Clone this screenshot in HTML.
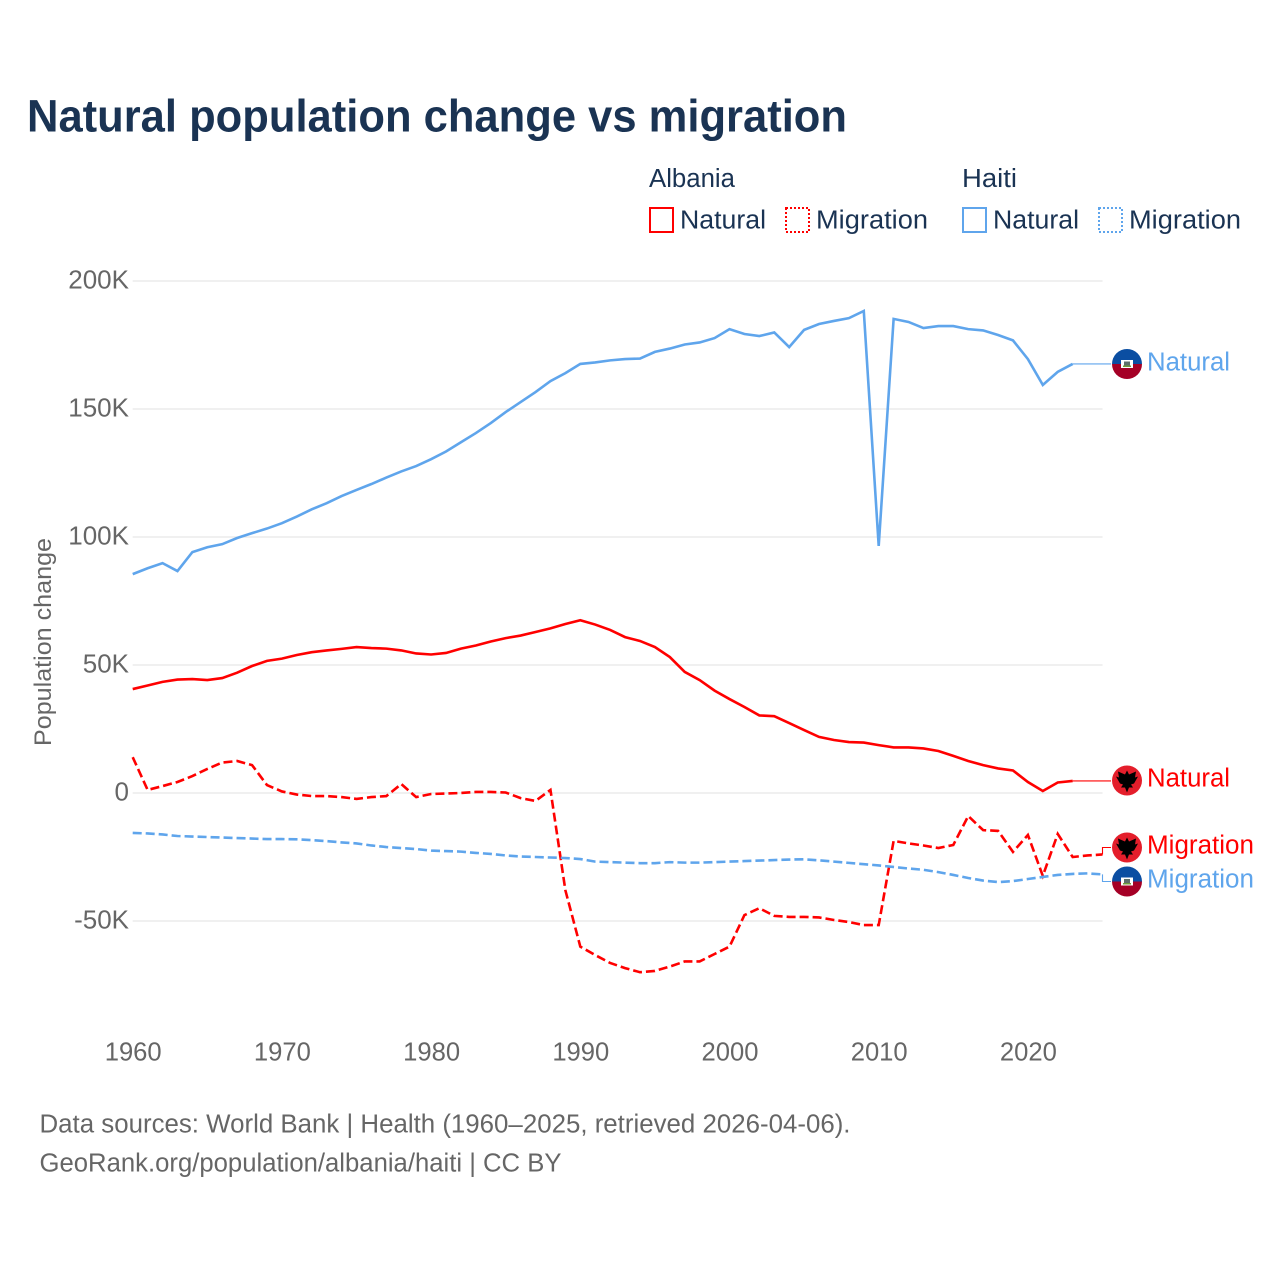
<!DOCTYPE html>
<html lang="en">
<head>
<meta charset="utf-8">
<title>Natural population change vs migration</title>
<style>
html,body{margin:0;padding:0;background:#fff;width:1280px;height:1280px;overflow:hidden}
svg{display:block}
text{font-family:"Liberation Sans",sans-serif}
</style>
</head>
<body>
<svg id="chart" xmlns="http://www.w3.org/2000/svg" width="1280" height="1280" viewBox="0 0 1280 1280">
  <rect width="1280" height="1280" fill="#fff"/>
  <text x="27" y="131.5" font-size="45" font-weight="700" fill="#1a3353" textLength="820" lengthAdjust="spacingAndGlyphs">Natural population change vs migration</text>

  <g>
    <text x="649" y="187" font-size="25.5" fill="#1a3353" textLength="86" lengthAdjust="spacingAndGlyphs">Albania</text>
    <text x="962" y="187" font-size="25.5" fill="#1a3353" textLength="55" lengthAdjust="spacingAndGlyphs">Haiti</text>
    <g>
      <rect x="650" y="208" width="23" height="24" fill="none" stroke="#ff0000" stroke-width="2"/>
      <text x="680" y="228.5" font-size="25.5" fill="#1a3353" textLength="86" lengthAdjust="spacingAndGlyphs">Natural</text>
    </g>
    <g>
      <rect x="786" y="208" width="23" height="24" fill="none" stroke="#ff0000" stroke-width="2" stroke-dasharray="2 2"/>
      <text x="816" y="228.5" font-size="25.5" fill="#1a3353" textLength="112" lengthAdjust="spacingAndGlyphs">Migration</text>
    </g>
    <g>
      <rect x="963" y="208" width="23" height="24" fill="none" stroke="#5fa5ec" stroke-width="2"/>
      <text x="993" y="228.5" font-size="25.5" fill="#1a3353" textLength="86" lengthAdjust="spacingAndGlyphs">Natural</text>
    </g>
    <g>
      <rect x="1099" y="208" width="23" height="24" fill="none" stroke="#5fa5ec" stroke-width="2" stroke-dasharray="2 2"/>
      <text x="1129" y="228.5" font-size="25.5" fill="#1a3353" textLength="112" lengthAdjust="spacingAndGlyphs">Migration</text>
    </g>
  </g>

  <g id="grid"></g>
  <g id="yticks"></g>
  <g id="xticks"></g>
  <text transform="translate(51,642) rotate(-90)" text-anchor="middle" font-size="24" fill="#666" textLength="208" lengthAdjust="spacingAndGlyphs">Population change</text>
  <g id="series"></g>

  <g>
    <g transform="translate(1127,364)">
      <path d="M-15 0A15 15 0 0 1 15 0Z" fill="#0b4ea2"/><path d="M-15 0A15 15 0 0 0 15 0Z" fill="#a50026"/>
      <rect x="-6" y="-4" width="12" height="8" fill="#fff"/><rect x="-3" y="-2.5" width="6" height="4" fill="#5d6f6a"/><rect x="-4" y="1.5" width="8" height="1.5" fill="#6f9a3a"/>
    </g>
    <text x="1147" y="370.5" font-size="25.5" fill="#5fa5ec" textLength="83" lengthAdjust="spacingAndGlyphs">Natural</text>
  </g>
  <g>
    <g transform="translate(1127,780.5)">
      <circle r="15" fill="#e41e2b"/>
      <path d="M0 -10L2 -6L9 -9L8 -3L11 -4L7 3L4 4L6 7L2 7L0 12L-2 7L-6 7L-4 4L-7 3L-11 -4L-8 -3L-9 -9L-2 -6Z" fill="#000"/>
    </g>
    <text x="1147" y="786.5" font-size="25.5" fill="#ff0000" textLength="83" lengthAdjust="spacingAndGlyphs">Natural</text>
  </g>
  <g>
    <g transform="translate(1127,847.5)">
      <circle r="15" fill="#e41e2b"/>
      <path d="M0 -10L2 -6L9 -9L8 -3L11 -4L7 3L4 4L6 7L2 7L0 12L-2 7L-6 7L-4 4L-7 3L-11 -4L-8 -3L-9 -9L-2 -6Z" fill="#000"/>
    </g>
    <text x="1147" y="853.5" font-size="25.5" fill="#ff0000" textLength="107" lengthAdjust="spacingAndGlyphs">Migration</text>
  </g>
  <g>
    <g transform="translate(1127,881.5)">
      <path d="M-15 0A15 15 0 0 1 15 0Z" fill="#0b4ea2"/><path d="M-15 0A15 15 0 0 0 15 0Z" fill="#a50026"/>
      <rect x="-6" y="-4" width="12" height="8" fill="#fff"/><rect x="-3" y="-2.5" width="6" height="4" fill="#5d6f6a"/><rect x="-4" y="1.5" width="8" height="1.5" fill="#6f9a3a"/>
    </g>
    <text x="1147" y="887.5" font-size="25.5" fill="#5fa5ec" textLength="107" lengthAdjust="spacingAndGlyphs">Migration</text>
  </g>

  <text x="39.5" y="1132.5" font-size="25.5" fill="#666" textLength="811" lengthAdjust="spacingAndGlyphs">Data sources: World Bank | Health (1960–2025, retrieved 2026-04-06).</text>
  <text x="39.5" y="1171.5" font-size="25.5" fill="#666" textLength="522" lengthAdjust="spacingAndGlyphs">GeoRank.org/population/albania/haiti | CC BY</text>
</svg>
<script>
const startYear = 1960;
const xTickYears = [1960, 1970, 1980, 1990, 2000, 2010, 2020];
const yTickValues = [200, 150, 100, 50, 0, -50];
const yTickLabels = ['200K', '150K', '100K', '50K', '0', '-50K'];

const haitiNatural = [85.5,87.8,89.8,86.7,94.1,96,97.2,99.6,101.5,103.3,105.4,108,110.8,113.2,116,118.4,120.7,123.2,125.6,127.7,130.4,133.4,137,140.6,144.5,148.8,152.7,156.6,160.9,164,167.6,168.2,169,169.5,169.7,172.3,173.6,175.2,176,177.7,181.2,179.3,178.5,179.9,174.2,180.9,183.2,184.4,185.5,188.3,96.5,185.2,184,181.6,182.4,182.4,181.2,180.7,178.9,176.8,169.5,159.4,164.5,167.6];
const albaniaNatural = [40.6,42,43.4,44.3,44.5,44.1,44.9,47,49.6,51.6,52.5,53.9,55,55.7,56.3,57,56.6,56.4,55.7,54.5,54.1,54.7,56.4,57.6,59.2,60.5,61.5,62.9,64.3,66,67.5,65.8,63.7,60.9,59.4,57,53.1,47.3,44.1,40,36.7,33.6,30.3,30,27.3,24.6,21.9,20.7,19.9,19.7,18.7,17.8,17.8,17.4,16.4,14.5,12.5,10.9,9.6,8.8,4.3,0.8,4.1,4.7];
const albaniaMigration = [14,1.2,2.7,4.3,6.6,9.4,11.9,12.5,10.9,3.1,0.6,-0.6,-1.2,-1.2,-1.6,-2.3,-1.6,-1.2,3.5,-1.6,-0.4,-0.2,0,0.4,0.4,0.2,-2,-3.1,1.2,-38,-60,-63.3,-66.4,-68.4,-70,-69.5,-67.8,-65.8,-65.8,-62.9,-60,-47.7,-45,-48,-48.4,-48.4,-48.6,-49.6,-50.4,-51.6,-51.6,-18.7,-19.7,-20.5,-21.5,-20.3,-9,-14.5,-14.8,-23,-16.4,-32.4,-16,-25,-24.4,-24];
const haitiMigration = [-15.6,-15.8,-16.2,-16.8,-17,-17.2,-17.4,-17.6,-17.8,-18,-18,-18.1,-18.4,-18.8,-19.3,-19.7,-20.5,-21.1,-21.5,-21.9,-22.5,-22.7,-22.9,-23.4,-23.8,-24.4,-24.8,-25,-25.2,-25.4,-25.8,-26.8,-27,-27.2,-27.4,-27.4,-27,-27.2,-27.2,-27,-26.8,-26.6,-26.4,-26.2,-26,-25.9,-26.3,-26.8,-27.3,-27.8,-28.3,-28.9,-29.5,-30,-30.9,-32,-33.2,-34.2,-34.8,-34.4,-33.6,-32.8,-32,-31.6,-31.4,-31.8];

const svgNS = 'http://www.w3.org/2000/svg';
const xScale = function (year) { return 132.7 + (year - 1960) * 14.92; };
const yScale = function (v) { return 793 - v * 2.56; };
const RED = '#ff0000';
const BLUE = '#5fa5ec';

function pointsFor(values) {
  return values.map(function (v, i) {
    return xScale(startYear + i).toFixed(2) + ',' + yScale(v).toFixed(2);
  }).join(' ');
}

const grid = document.getElementById('grid');
const yticks = document.getElementById('yticks');
yTickValues.forEach(function (v, i) {
  const line = document.createElementNS(svgNS, 'line');
  
  
  line.setAttribute('x1', xScale(1960));
  line.setAttribute('x2', xScale(2025));
  line.setAttribute('y1', yScale(v));
  line.setAttribute('y2', yScale(v));
  line.setAttribute('stroke', '#e6e6e6');
  line.setAttribute('stroke-width', '1.3');
  grid.appendChild(line);
  const label = document.createElementNS(svgNS, 'text');
  
  
  label.setAttribute('x', 129);
  label.setAttribute('y', yScale(v) + 7.5);
  label.setAttribute('text-anchor', 'end');
  label.setAttribute('font-size', '26');
  label.setAttribute('fill', '#666');
  label.textContent = yTickLabels[i];
  yticks.appendChild(label);
});

const xticks = document.getElementById('xticks');
xTickYears.forEach(function (year) {
  const label = document.createElementNS(svgNS, 'text');
  
  
  label.setAttribute('x', xScale(year) + 0.5);
  label.setAttribute('y', 1060.5);
  label.setAttribute('text-anchor', 'middle');
  label.setAttribute('font-size', '25.6');
  label.setAttribute('fill', '#666');
  label.textContent = String(year);
  xticks.appendChild(label);
});

const series = document.getElementById('series');

const lineAlbaniaMigration = document.createElementNS(svgNS, 'polyline');


lineAlbaniaMigration.setAttribute('points', pointsFor(albaniaMigration));
lineAlbaniaMigration.setAttribute('fill', 'none');
lineAlbaniaMigration.setAttribute('stroke', RED);
lineAlbaniaMigration.setAttribute('stroke-width', '2.6');
lineAlbaniaMigration.setAttribute('stroke-dasharray', '9 4');
series.appendChild(lineAlbaniaMigration);

const lineHaitiMigration = document.createElementNS(svgNS, 'polyline');


lineHaitiMigration.setAttribute('points', pointsFor(haitiMigration));
lineHaitiMigration.setAttribute('fill', 'none');
lineHaitiMigration.setAttribute('stroke', BLUE);
lineHaitiMigration.setAttribute('stroke-width', '2.6');
lineHaitiMigration.setAttribute('stroke-dasharray', '9 4');
series.appendChild(lineHaitiMigration);

const lineAlbaniaNatural = document.createElementNS(svgNS, 'polyline');


lineAlbaniaNatural.setAttribute('points', pointsFor(albaniaNatural));
lineAlbaniaNatural.setAttribute('fill', 'none');
lineAlbaniaNatural.setAttribute('stroke', RED);
lineAlbaniaNatural.setAttribute('stroke-width', '2.6');
series.appendChild(lineAlbaniaNatural);

const lineHaitiNatural = document.createElementNS(svgNS, 'polyline');


lineHaitiNatural.setAttribute('points', pointsFor(haitiNatural));
lineHaitiNatural.setAttribute('fill', 'none');
lineHaitiNatural.setAttribute('stroke', BLUE);
lineHaitiNatural.setAttribute('stroke-width', '2.6');
series.appendChild(lineHaitiNatural);

function lastPoint(values) {
  const i = values.length - 1;
  return [xScale(startYear + i), yScale(values[i])];
}

const endA = lastPoint(albaniaNatural);
const connectorAlbaniaNatural = document.createElementNS(svgNS, 'path');


connectorAlbaniaNatural.setAttribute('d', 'M' + endA[0] + ' ' + endA[1] + 'H1111');
connectorAlbaniaNatural.setAttribute('fill', 'none');
connectorAlbaniaNatural.setAttribute('stroke', RED);
connectorAlbaniaNatural.setAttribute('stroke-width', '1.1');
series.appendChild(connectorAlbaniaNatural);

const endH = lastPoint(haitiNatural);
const connectorHaitiNatural = document.createElementNS(svgNS, 'path');


connectorHaitiNatural.setAttribute('d', 'M' + endH[0] + ' ' + endH[1] + 'H1111');
connectorHaitiNatural.setAttribute('fill', 'none');
connectorHaitiNatural.setAttribute('stroke', BLUE);
connectorHaitiNatural.setAttribute('stroke-width', '1.1');
series.appendChild(connectorHaitiNatural);

const endAM = lastPoint(albaniaMigration);
const connectorAlbaniaMigration = document.createElementNS(svgNS, 'path');


connectorAlbaniaMigration.setAttribute('d', 'M' + endAM[0] + ' ' + endAM[1] + 'V847.5H1111');
connectorAlbaniaMigration.setAttribute('fill', 'none');
connectorAlbaniaMigration.setAttribute('stroke', RED);
connectorAlbaniaMigration.setAttribute('stroke-width', '1.1');
series.appendChild(connectorAlbaniaMigration);

const endHM = lastPoint(haitiMigration);
const connectorHaitiMigration = document.createElementNS(svgNS, 'path');


connectorHaitiMigration.setAttribute('d', 'M' + endHM[0] + ' ' + endHM[1] + 'V881.5H1111');
connectorHaitiMigration.setAttribute('fill', 'none');
connectorHaitiMigration.setAttribute('stroke', BLUE);
connectorHaitiMigration.setAttribute('stroke-width', '1.1');
series.appendChild(connectorHaitiMigration);
</script>
</body>
</html>
